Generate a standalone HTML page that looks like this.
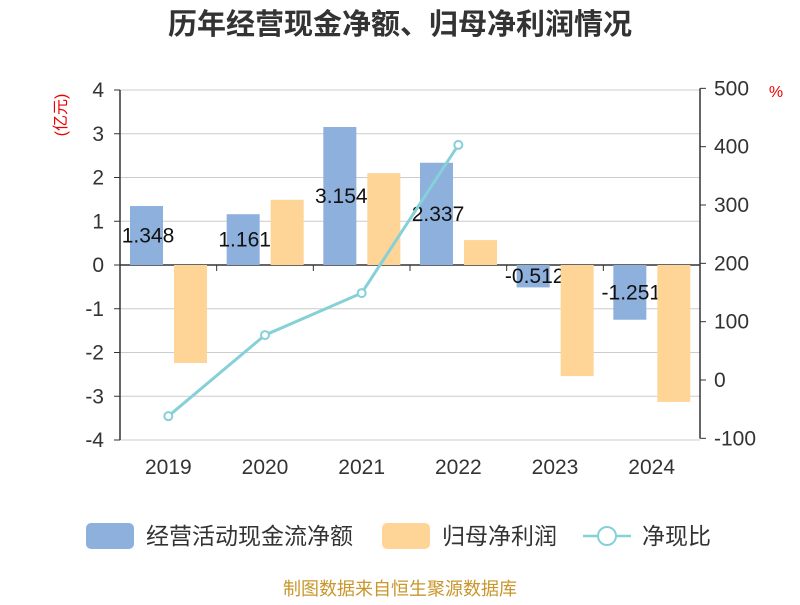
<!DOCTYPE html>
<html><head><meta charset="utf-8"><style>
body{margin:0;background:#fff;}
svg text{font-family:"Liberation Sans","Noto Sans CJK SC",sans-serif;}
</style></head><body>
<svg width="800" height="600">
<g id="grid"></g>
<g id="bars"></g>
<g id="labels"></g>
<g id="bars2"></g>
<g id="line"></g>
<g id="axes"></g>
<text x="400" y="34" text-anchor="middle" font-size="29" font-weight="bold" fill="#333">历年经营现金净额、归母净利润情况</text>
<text x="0" y="0" transform="translate(66,115) rotate(-90)" text-anchor="middle" font-size="16" fill="#e00">(亿元)</text>
<text x="776" y="97" text-anchor="middle" font-size="16" fill="#e00">%</text>
<g>
<g><rect x="86" y="523" width="48" height="26" rx="5" fill="#8eb0dc"/><text x="146" y="544" font-size="23" fill="#333">经营活动现金流净额</text></g>
<g><rect x="382" y="523" width="48" height="26" rx="5" fill="#fed597"/><text x="442" y="544" font-size="23" fill="#333">归母净利润</text></g>
<g><line x1="583" y1="536" x2="631" y2="536" stroke="#86d0d8" stroke-width="2.5"/><circle cx="607" cy="536" r="9" fill="#fff" stroke="#86d0d8" stroke-width="2"/><text x="642" y="544" font-size="23" fill="#333">净现比</text></g>
</g>
<text x="400" y="595" text-anchor="middle" font-size="18" fill="#c8962a">制图数据来自恒生聚源数据库</text>
</svg>
<script>
const categories=["2019","2020","2021","2022","2023","2024"];
const cashFlow=[1.348,1.161,3.154,2.337,-0.512,-1.251];
const netProfit=[-2.24,1.49,2.1,0.57,-2.54,-3.13];
const ratio=[-62,77,149,403,null,null];
const leftTicks=[4,3,2,1,0,-1,-2,-3,-4];
const rightTicks=[500,400,300,200,100,0,-100];
const NS="http://www.w3.org/2000/svg";
const X0=120,X1=700,bw=(X1-X0)/categories.length;
const yL=v=>265-v*43.75;
const yR=v=>380-v*0.5833;
function mk(p,t,a,txt){const e=document.createElementNS(NS,t);for(const k in a)e.setAttribute(k,a[k]);if(txt!=null)e.textContent=txt;p.appendChild(e);return e;}
const grid=document.getElementById('grid'),bars=document.getElementById('bars'),bars2=document.getElementById('bars2'),line=document.getElementById('line'),labels=document.getElementById('labels'),axes=document.getElementById('axes');
leftTicks.forEach(t=>{
 const l=mk(grid,'line',{x1:X0,x2:X1,y1:yL(t),y2:yL(t),stroke:t===0?'#333':'#ccc','stroke-width':t===0?1.5:1});
 
 
 const tx=mk(axes,'text',{x:104,y:yL(t)+7,'text-anchor':'end','font-size':21,fill:'#333'},String(t));
 
 
 mk(axes,'line',{x1:X0-6,x2:X0,y1:yL(t),y2:yL(t),stroke:'#333'});
});
rightTicks.forEach(t=>{
 const tx=mk(axes,'text',{x:714,y:yR(t)+7,'font-size':21,fill:'#333'},String(t));
 
 
 mk(axes,'line',{x1:X1,x2:X1+6,y1:yR(t),y2:yR(t),stroke:'#333'});
});
mk(axes,'line',{x1:X0,x2:X0,y1:yL(4),y2:yL(-4),stroke:'#333','stroke-width':1.5});
mk(axes,'line',{x1:X1,x2:X1,y1:yR(500),y2:yR(-100),stroke:'#333','stroke-width':1.5});
categories.forEach((c,i)=>{
 const bx=X0+i*bw;
 mk(axes,'line',{x1:bx,x2:bx,y1:265,y2:271,stroke:'#333'});
 const tx=mk(axes,'text',{x:bx+bw/2,y:474,'text-anchor':'middle','font-size':21,fill:'#333'},c);
 
 
 const v=cashFlow[i];
 const r=mk(bars,'rect',{x:bx+10,y:Math.min(yL(v),yL(0)),width:33,height:Math.abs(yL(v)-yL(0)),fill:'#8eb0dc'});
 
 
 const p=netProfit[i];
 const r2=mk(bars2,'rect',{x:bx+54,y:Math.min(yL(p),yL(0)),width:33,height:Math.abs(yL(p)-yL(0)),fill:'#fed597'});
 
 
 const lt=mk(labels,'text',{x:bx+28,y:(yL(v)+yL(0))/2+7,'text-anchor':'middle','font-size':21,fill:'#111'},String(v));
 
 
});
const pts=[];
ratio.forEach((v,i)=>{if(v!=null)pts.push([X0+i*bw+bw/2,yR(v)]);});
const pl=mk(line,'polyline',{points:pts.map(p=>p.join(',')).join(' '),fill:'none',stroke:'#86d0d8','stroke-width':3});


pts.forEach(p=>{
 const c=mk(line,'circle',{cx:p[0],cy:p[1],r:4,fill:'#fff',stroke:'#86d0d8','stroke-width':2});
 
 
});
</script>
</body></html>
